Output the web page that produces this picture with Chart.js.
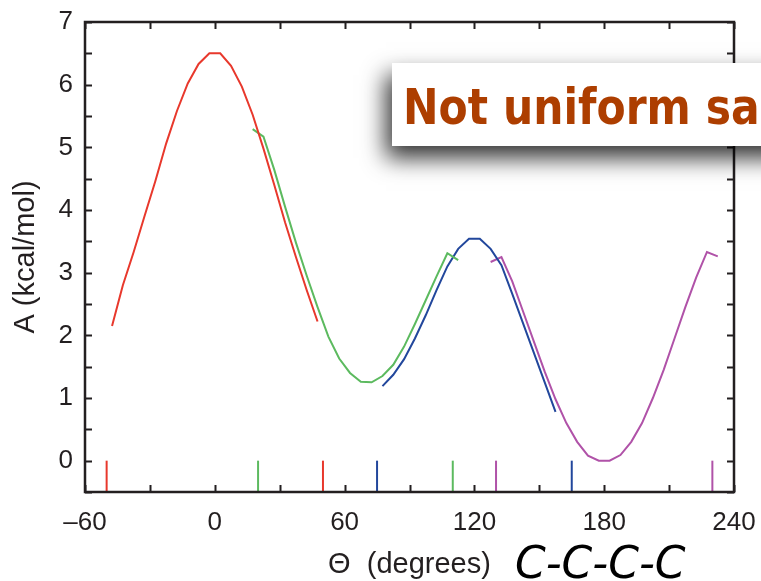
<!DOCTYPE html>
<html>
<head>
<meta charset="utf-8">
<script src="https://cdn.jsdelivr.net/npm/chart.js@4/dist/chart.umd.min.js"></script>
<style>
html,body{margin:0;padding:0;background:#fff;}
#c{display:block;}
</style>
</head>
<body>
<canvas id="c" width="761" height="581"></canvas>
<script>
// ---- data ----
const redTheta = [-47.5,-42.5,-37.5,-32.5,-27.5,-22.5,-17.5,-12.5,-7.5,-2.5,2.5,7.5,12.5,17.5,22.5,27.5,32.5,37.5,42.5,47.5];
const redA     = [2.15,2.80,3.33,3.90,4.46,5.06,5.58,6.02,6.33,6.50,6.50,6.30,5.97,5.52,4.98,4.40,3.80,3.25,2.72,2.22];

const greenTheta = [17.5,22.5,27.5,32.5,37.5,42.5,47.5,52.5,57.5,62.5,67.5,72.5,77.5,82.5,87.5,92.5,97.5,102.5,107.5,112.5];
const greenA     = [5.29,5.17,4.64,4.05,3.48,2.95,2.45,1.98,1.63,1.40,1.26,1.25,1.35,1.53,1.82,2.18,2.56,2.94,3.31,3.20];

const blueTheta = [77.5,82.5,87.5,92.5,97.5,102.5,107.5,112.5,117.5,122.5,127.5,132.5,137.5,142.5,147.5,152.5,157.5];
const blueA     = [1.19,1.37,1.62,1.95,2.32,2.72,3.10,3.38,3.54,3.54,3.38,3.12,2.66,2.19,1.72,1.25,0.78];

const magentaTheta = [127.5,132.5,137.5,142.5,147.5,152.5,157.5,162.5,167.5,172.5,177.5,182.5,187.5,192.5,197.5,202.5,207.5,212.5,217.5,222.5,227.5,232.5];
const magentaA     = [3.17,3.25,2.86,2.38,1.90,1.42,0.98,0.60,0.30,0.08,0.00,0.00,0.09,0.30,0.60,1.00,1.45,1.95,2.45,2.92,3.33,3.26];

// window boundaries (markers along the bottom)
const windowLo = [-50, 20, 75, 130];
const windowHi = [50, 110, 165, 230];

const xTickLabels = [-60, 0, 60, 120, 180, 240];
const yTickLabels = [0, 1, 2, 3, 4, 5, 6, 7];
const xMinorTicks = [-60,-30,0,30,60,90,120,150,180,210,240];
const yMinorTicks = [-0.5,0,0.5,1,1.5,2,2.5,3,3.5,4,4.5,5,5.5,6,6.5,7];

const colors = ['#e8382c', '#5cba5f', '#22479c', '#b052a8'];
const markerBottom = -0.5, markerTop = 0;

// ---- build datasets ----
const curves = [[redTheta, redA], [greenTheta, greenA], [blueTheta, blueA], [magentaTheta, magentaA]];
const datasets = [];
curves.forEach((c, i) => {
  datasets.push({
    data: c[0].map((t, k) => ({x: t, y: c[1][k]})),
    borderColor: colors[i], borderWidth: 2, showLine: true, pointRadius: 0, tension: 0, fill: false
  });
});
windowLo.forEach((lo, i) => {
  [lo, windowHi[i]].forEach(v => {
    datasets.push({
      data: [{x: v, y: markerBottom}, {x: v, y: markerTop}],
      borderColor: colors[i], borderWidth: 2, showLine: true, pointRadius: 0, fill: false
    });
  });
});

const frameColor = '#231f20';

const framePlugin = {
  id: 'frame',
  afterDatasetsDraw(chart) {
    const {ctx, chartArea: a, scales: {x, y}} = chart;
    ctx.save();
    ctx.strokeStyle = frameColor;
    ctx.lineWidth = 2;
    ctx.beginPath();
    xMinorTicks.forEach(v => {
      const px = Math.round(x.getPixelForValue(v)) + 0.5;
      ctx.moveTo(px, a.bottom); ctx.lineTo(px, a.bottom - 7);
      ctx.moveTo(px, a.top); ctx.lineTo(px, a.top + 7);
    });
    yMinorTicks.forEach(v => {
      const py = Math.round(y.getPixelForValue(v)) + 0.5;
      ctx.moveTo(a.left, py); ctx.lineTo(a.left + 7, py);
      ctx.moveTo(a.right, py); ctx.lineTo(a.right - 7, py);
    });
    ctx.stroke();
    ctx.lineWidth = 2.5;
    ctx.strokeRect(a.left, a.top, a.right - a.left, a.bottom - a.top);
    ctx.restore();
  },
  afterDraw(chart) {
    const ctx = chart.ctx;
    // annotation box with shadow
    ctx.save();
    ctx.shadowColor = 'rgba(0,0,0,0.8)';
    ctx.shadowBlur = 22;
    ctx.shadowOffsetX = -6;
    ctx.shadowOffsetY = 12;
    ctx.fillStyle = '#ffffff';
    ctx.fillRect(392, 63, 420, 83);
    ctx.restore();
    ctx.save();
    ctx.fillStyle = '#ad3e00';
    ctx.font = 'bold 50px "DejaVu Sans"';
    ctx.textBaseline = 'alphabetic';
    ctx.translate(403, 124);
    ctx.scale(0.85, 1);
    ctx.fillText('Not uniform sampling', 0, 0);
    ctx.restore();
    // C-C-C-C label
    ctx.save();
    ctx.fillStyle = '#000';
    ctx.font = 'italic 44px "DejaVu Sans"';
    ctx.textBaseline = 'alphabetic';
    ctx.fillText('C-C-C-C', 515, 578);
    ctx.restore();
  }
};

new Chart(document.getElementById('c'), {
  type: 'scatter',
  data: {datasets},
  options: {
    responsive: false,
    animation: false,
    devicePixelRatio: 1,
    layout: {padding: {left: 0, top: 22, right: 27, bottom: 0}},
    plugins: {legend: {display: false}, tooltip: {enabled: false}},
    scales: {
      x: {
        type: 'linear', position: 'bottom', min: -60, max: 240,
        grid: {display: false, drawTicks: false},
        border: {display: false},
        afterBuildTicks: s => { s.ticks = xTickLabels.map(v => ({value: v})); },
        afterFit: s => { s.height = 89; s.paddingLeft = 0; s.paddingRight = 0; },
        ticks: {
          padding: 15, color: '#231f20', maxRotation: 0, autoSkip: false,
          font: {family: '"Liberation Sans", Arial, sans-serif', size: 26},
          callback: v => String(v).replace('-', '\u2013')
        },
        title: {display: true, text: '\u0398  (degrees)', color: '#231f20',
          font: {family: '"Liberation Sans", Arial, sans-serif', size: 29, lineHeight: 1.1},
          padding: {top: 0, bottom: 0}}
      },
      y: {
        type: 'linear', position: 'left', min: -0.5, max: 7,
        grid: {display: false, drawTicks: false},
        border: {display: false},
        afterBuildTicks: s => { s.ticks = yTickLabels.map(v => ({value: v})); },
        afterFit: s => { s.width = 85; s.paddingTop = 0; s.paddingBottom = 0; },
        ticks: {
          padding: 12, color: '#231f20', autoSkip: false,
          font: {family: '"Liberation Sans", Arial, sans-serif', size: 26}
        },
        title: {display: true, text: 'A (kcal/mol)', color: '#231f20',
          font: {family: '"Liberation Sans", Arial, sans-serif', size: 29, lineHeight: 1.1},
          padding: {top: 10, bottom: 0}}
      }
    }
  },
  plugins: [framePlugin]
});
</script>
</body>
</html>
